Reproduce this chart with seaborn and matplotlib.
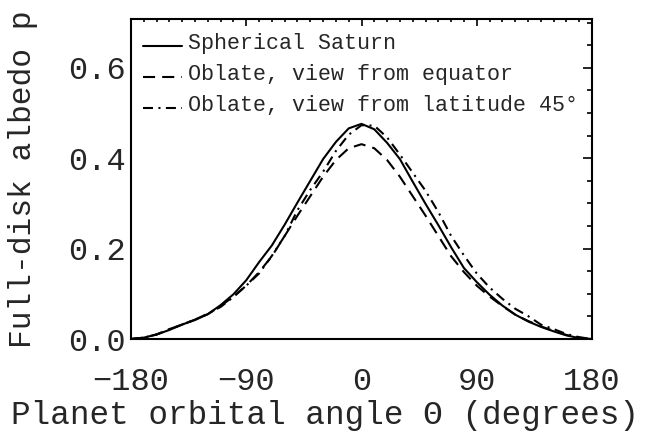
import numpy as np
import pandas as pd
import seaborn as sns
import matplotlib.pyplot as plt
from matplotlib.ticker import MultipleLocator, FixedLocator, FixedFormatter
from matplotlib.legend_handler import HandlerLine2D

# phase angle grid (degrees) and full-disk albedo
theta = [-180, -170, -160, -150, -140, -130, -120, -110, -100, -90, -80, -70, -60,
         -50, -40, -30, -20, -10, 0, 10, 20, 30, 40, 50, 60, 70, 80, 90, 100, 110,
         120, 130, 140, 150, 160, 170, 180]

spherical = [0.0, 0.003, 0.010, 0.020, 0.032, 0.042, 0.055, 0.075, 0.099, 0.130,
             0.170, 0.207, 0.253, 0.302, 0.350, 0.398, 0.436, 0.466, 0.476, 0.464,
             0.434, 0.398, 0.348, 0.299, 0.252, 0.203, 0.157, 0.126, 0.098, 0.074,
             0.054, 0.039, 0.027, 0.017, 0.008, 0.002, 0.0]

oblate_eq = [0.0, 0.003, 0.010, 0.022, 0.032, 0.043, 0.055, 0.073, 0.094, 0.118,
             0.148, 0.183, 0.228, 0.273, 0.316, 0.359, 0.396, 0.422, 0.431, 0.422,
             0.396, 0.359, 0.316, 0.273, 0.228, 0.183, 0.148, 0.118, 0.094, 0.073,
             0.054, 0.040, 0.028, 0.018, 0.009, 0.003, 0.0]

oblate_45 = [0.0, 0.003, 0.010, 0.021, 0.032, 0.043, 0.056, 0.071, 0.093, 0.118,
             0.145, 0.184, 0.228, 0.285, 0.330, 0.370, 0.416, 0.452, 0.473, 0.472,
             0.446, 0.408, 0.368, 0.328, 0.281, 0.228, 0.185, 0.145, 0.114, 0.089,
             0.067, 0.051, 0.032, 0.022, 0.011, 0.004, 0.0]

labels = ["Spherical Saturn", "Oblate, view from equator", "Oblate, view from latitude 45°"]

xticks = [-180, -90, 0, 90, 180]
xticklabels = ["\u2212180", "\u221290", "0", "90", "180"]
yticks = [0.0, 0.2, 0.4, 0.6]
yticklabels = ["0.0", "0.2", "0.4", "0.6"]

sns.set_style("white")
plt.rcParams['font.family'] = ['Liberation Mono', 'DejaVu Sans Mono']

fig = plt.figure(figsize=(6.52, 4.40), dpi=100)
ax = fig.add_axes([131/652, 101/440, 461/652, 320/440])

sns.lineplot(x=theta, y=spherical, color="black", lw=1.5, ls="-", label=labels[0], ax=ax)
sns.lineplot(x=theta, y=oblate_eq, color="black", lw=1.5, ls=(0, (5.8, 3.4)), label=labels[1], ax=ax)
sns.lineplot(x=theta, y=oblate_45, color="black", lw=1.5, ls=(0, (4.8, 2.6, 1.0, 2.6)), label=labels[2], ax=ax)

ax.set_xlim(-180, 180)
ax.set_ylim(0, 0.708)

ax.xaxis.set_major_locator(FixedLocator(xticks))
ax.xaxis.set_major_formatter(FixedFormatter(xticklabels))
ax.xaxis.set_minor_locator(MultipleLocator(10))
ax.yaxis.set_major_locator(FixedLocator(yticks))
ax.yaxis.set_major_formatter(FixedFormatter(yticklabels))
ax.yaxis.set_minor_locator(MultipleLocator(0.05))

ax.tick_params(axis="both", which="both", direction="in", top=True, right=True,
               color="black", width=1.2, labelsize=23)
ax.tick_params(axis="x", which="major", length=4.8, pad=20)
ax.tick_params(axis="x", which="minor", length=2.4)
ax.tick_params(axis="y", which="major", length=6.6, pad=4)
ax.tick_params(axis="y", which="minor", length=3.3)

for s in ax.spines.values():
    s.set_visible(True)
    s.set_color("black")
    s.set_linewidth(1.5)

ax.set_xlabel("Planet orbital angle \u0398 (degrees)", fontsize=23.5)
ax.set_ylabel("Full-disk albedo p", fontsize=22.5)
ax.xaxis.set_label_coords((325 - 131) / 461, -0.19)
ax.yaxis.set_label_coords((38 - 131) / 461, 0.5)


class LowLine(HandlerLine2D):
    # draw the legend sample near the text baseline, like the original
    def create_artists(self, legend, orig_handle, xdescent, ydescent,
                       width, height, fontsize, trans):
        arts = super().create_artists(legend, orig_handle, xdescent, ydescent,
                                      width, height, fontsize, trans)
        for a in arts:
            y = a.get_ydata()
            a.set_ydata(np.asarray(y) - 0.3 * height)
        return arts


ax.legend(loc="upper left", bbox_to_anchor=(12/461, 1 - 14/320), frameon=False,
          fontsize=15.6, handlelength=1.8, handletextpad=0.28, labelspacing=0.47,
          borderpad=0, borderaxespad=0, handler_map={plt.Line2D: LowLine()})

fig.savefig("out.png", dpi=100)
